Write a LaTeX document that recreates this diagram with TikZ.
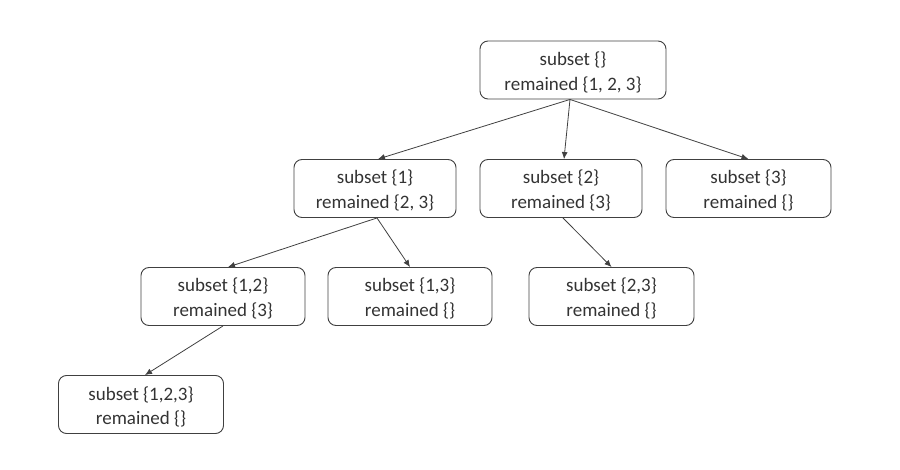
\documentclass[tikz,border=0pt]{standalone}
\usepackage{fontspec}
\setmainfont{Carlito}
\usetikzlibrary{arrows.meta}
\definecolor{txt}{HTML}{333333}
\definecolor{ln}{HTML}{404040}
\newcommand{\twolines}[2]{\raisebox{-3pt}[\height][\depth]{\begin{tabular}{@{}c@{}}#1\\#2\end{tabular}}}
\begin{document}
\begin{tikzpicture}[x=1pt,y=-1pt,
  box/.style={draw=ln, line width=0.9pt, rounded corners=8pt, minimum height=58pt,
    text=txt, font=\fontsize{19}{25}\selectfont, inner sep=0pt},
  edge/.style={draw=ln, line width=0.8pt, -{Latex[length=7pt,width=6pt]}}]
\useasboundingbox (0,0) rectangle (900,470);
\node[box, minimum width=186pt] (r) at (573,70) {\twolines{subset \{\}}{remained \{1, 2, 3\}}};
\node[box, minimum width=162pt] (a) at (375,188.5) {\twolines{subset \{1\}}{remained \{2, 3\}}};
\node[box, minimum width=162pt] (b) at (561,188.5) {\twolines{subset \{2\}}{remained \{3\}}};
\node[box, minimum width=165pt] (c) at (748.5,188.5) {\twolines{subset \{3\}}{remained \{\}}};
\node[box, minimum width=164pt] (ab) at (223,296.5) {\twolines{subset \{1,2\}}{remained \{3\}}};
\node[box, minimum width=164pt] (ac) at (410,296.5) {\twolines{subset \{1,3\}}{remained \{\}}};
\node[box, minimum width=165pt] (bc) at (611.5,296.5) {\twolines{subset \{2,3\}}{remained \{\}}};
\node[box, minimum width=165pt] (abc) at (141,404.5) {\twolines{subset \{1,2,3\}}{remained \{\}}};
\draw[edge] ([xshift=-3pt]r.south) -- ([xshift=3pt]a.north);
\draw[edge] ([xshift=-3pt]r.south) -- ([xshift=3pt]b.north);
\draw[edge] ([xshift=-3pt]r.south) -- (c.north);
\draw[edge] ([xshift=2pt]a.south) -- ([xshift=5pt]ab.north);
\draw[edge] ([xshift=2pt]a.south) -- (ac.north);
\draw[edge] ([xshift=2pt]b.south) -- (bc.north);
\draw[edge] (ab.south) -- ([xshift=4pt]abc.north);
\end{tikzpicture}
\end{document}
